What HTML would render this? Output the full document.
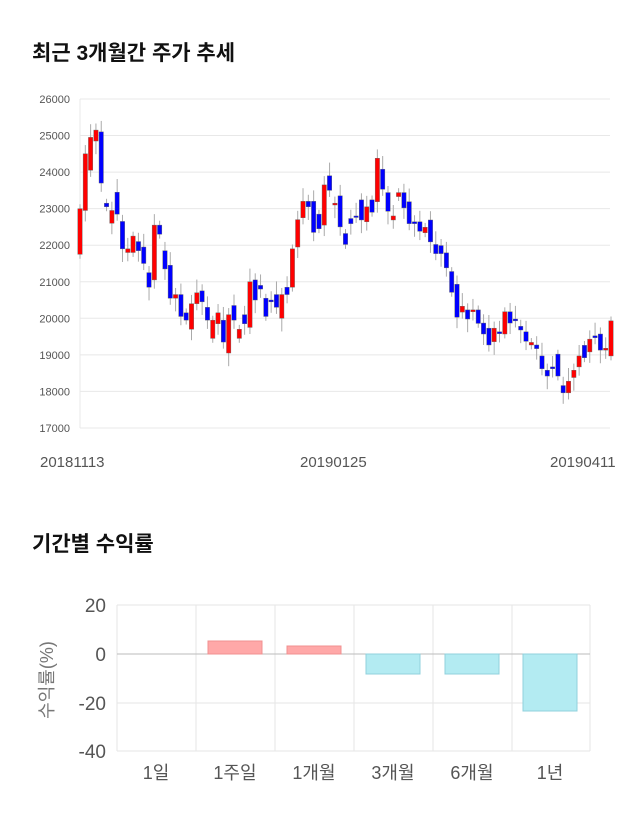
<!DOCTYPE html><html><head><meta charset="utf-8"><style>
body{margin:0;background:#fff;width:640px;height:810px;overflow:hidden;font-family:"Liberation Sans","Noto Sans CJK KR",sans-serif}
</style></head><body>
<svg id="s" width="640" height="810" xmlns="http://www.w3.org/2000/svg" font-family="Liberation Sans, Noto Sans CJK KR, sans-serif">
<text x="32" y="60" font-size="21" font-weight="bold" fill="#111">최근 3개월간 주가 추세</text>
<text x="32" y="551" font-size="21" font-weight="bold" fill="#111">기간별 수익률</text>
<g id="grid"></g>
<g id="candles"></g>
<g font-size="15" fill="#555">
<text x="40" y="467">20181113</text><text x="300" y="467">20190125</text><text x="550" y="467">20190411</text></g>
<!-- bar chart -->
<g stroke="#e6e6e6" stroke-width="1">
<line x1="117" y1="605" x2="590" y2="605"/><line x1="117" y1="703" x2="590" y2="703"/><line x1="117" y1="751" x2="590" y2="751"/>
<line x1="117" y1="605" x2="117" y2="751"/><line x1="196" y1="605" x2="196" y2="751"/><line x1="275" y1="605" x2="275" y2="751"/><line x1="354" y1="605" x2="354" y2="751"/><line x1="433" y1="605" x2="433" y2="751"/><line x1="512" y1="605" x2="512" y2="751"/><line x1="590" y1="605" x2="590" y2="751"/>
</g>
<line x1="117" y1="654" x2="590" y2="654" stroke="#bbb"/>
<rect x="208" y="641" width="54" height="13" fill="#ffa8a8" stroke="#f09090"/>
<rect x="287" y="646" width="54" height="8" fill="#ffa8a8" stroke="#f09090"/>
<rect x="366" y="654" width="54" height="20" fill="#b3ebf2" stroke="#90d0dc"/>
<rect x="445" y="654" width="54" height="20" fill="#b3ebf2" stroke="#90d0dc"/>
<rect x="523" y="654" width="54" height="57" fill="#b3ebf2" stroke="#90d0dc"/>
<g font-size="19" fill="#555" text-anchor="end">
<text x="106" y="612">20</text><text x="106" y="661">0</text><text x="106" y="710">-20</text><text x="106" y="758">-40</text></g>
<g font-size="18" fill="#555" text-anchor="middle">
<text x="156" y="779">1일</text><text x="235" y="779">1주일</text><text x="314" y="779">1개월</text><text x="393" y="779">3개월</text><text x="472" y="779">6개월</text><text x="550" y="779">1년</text></g>
<text transform="translate(53,680) rotate(-90)" font-size="18" fill="#777" text-anchor="middle">수익률(%)</text>
</svg>
<script>
var NS="http://www.w3.org/2000/svg";
function Y(v){return 99+(26000-v)/1000*36.55;}
var g=document.getElementById('grid'),h='';
for(var v=17000;v<=26000;v+=1000){var y=Y(v);h+='<line x1="80" x2="610" y1="'+y+'" y2="'+y+'" stroke="#e8e8e8"/>';h+='<text x="70" y="'+(y+4)+'" font-size="11" fill="#555" text-anchor="end">'+v+'</text>';}
h+='<line x1="80" x2="80" y1="99" y2="428" stroke="#e8e8e8"/>';
g.innerHTML=h;
var d=[[21750,23000],[22950,24500],[24050,24950],[24850,25150],[25100,23700],[23150,23050],[22600,22950],[23450,22850],[22650,21900],[21800,21900],[21800,22250],[22100,21850],[21950,21500],[21250,20850],[21050,22550],[22550,22300],[21850,21350],[21450,20550],[20550,20650],[20650,20050],[20150,19950],[19700,20400],[20400,20700],[20750,20450],[20300,19950],[19450,19950],[19850,20150],[19950,19350],[19050,20100],[20350,19950],[19450,19700],[20100,19850],[19750,21000],[21050,20500],[20900,20800],[20550,20050],[20500,20450],[20650,20300],[20000,20650],[20850,20650],[20850,21900],[21950,22700],[22750,23200],[23200,23050],[23200,22350],[22850,22450],[22550,23650],[23900,23500],[23100,23150],
[23350,22500],[22320,22020],[22730,22590],[22800,22790],[23240,22690],[22640,23050],[23240,22900],[23190,24380],[24080,23530],[23440,22930],[22690,22800],[23330,23440],[23440,23020],[23190,22590],[22640,22590],[22640,22380],[22340,22490],[22690,22090],[22020,21770],[21990,21770],[21790,21380],[21280,20710],[20930,20030],[20170,20330],[20230,19980],[20180,20230],[20230,19860],[19870,19570],[19730,19270],[19360,19730],[19630,19580],[19570,20180],[20180,19870],[19980,19930],[19780,19680],[19630,19370],[19270,19340],[19270,19170],[18970,18620],[18580,18420],[18670,18620],[19020,18420],[18160,17960],[17960,18280],[18380,18580],[18670,18970],[19260,18920],[19080,19430],[19520,19470],[19570,19130],[19130,19180],[18970,19930]];
var c='';var n=d.length;
for(var i=0;i<n;i++){var o=d[i][0],cl=d[i][1];var x=80+i*(531/(n-1));var hi=Math.max(o,cl)+120+((i*37)%5)*60,lo=Math.min(o,cl)-120-((i*53)%5)*60;
c+='<line x1="'+x+'" x2="'+x+'" y1="'+Y(hi)+'" y2="'+Y(lo)+'" stroke="#aaa" stroke-width="1"/>';
var t=Y(Math.max(o,cl)),b=Y(Math.min(o,cl));if(b-t<1.5)b=t+1.5;
c+='<rect x="'+(x-2.2)+'" y="'+t+'" width="4.4" height="'+(b-t)+'" fill="'+(cl>=o?'#ff0000':'#0000ff')+'" stroke="#666" stroke-width="0.4"/>';}
document.getElementById('candles').innerHTML=c;
</script>
</body></html>
